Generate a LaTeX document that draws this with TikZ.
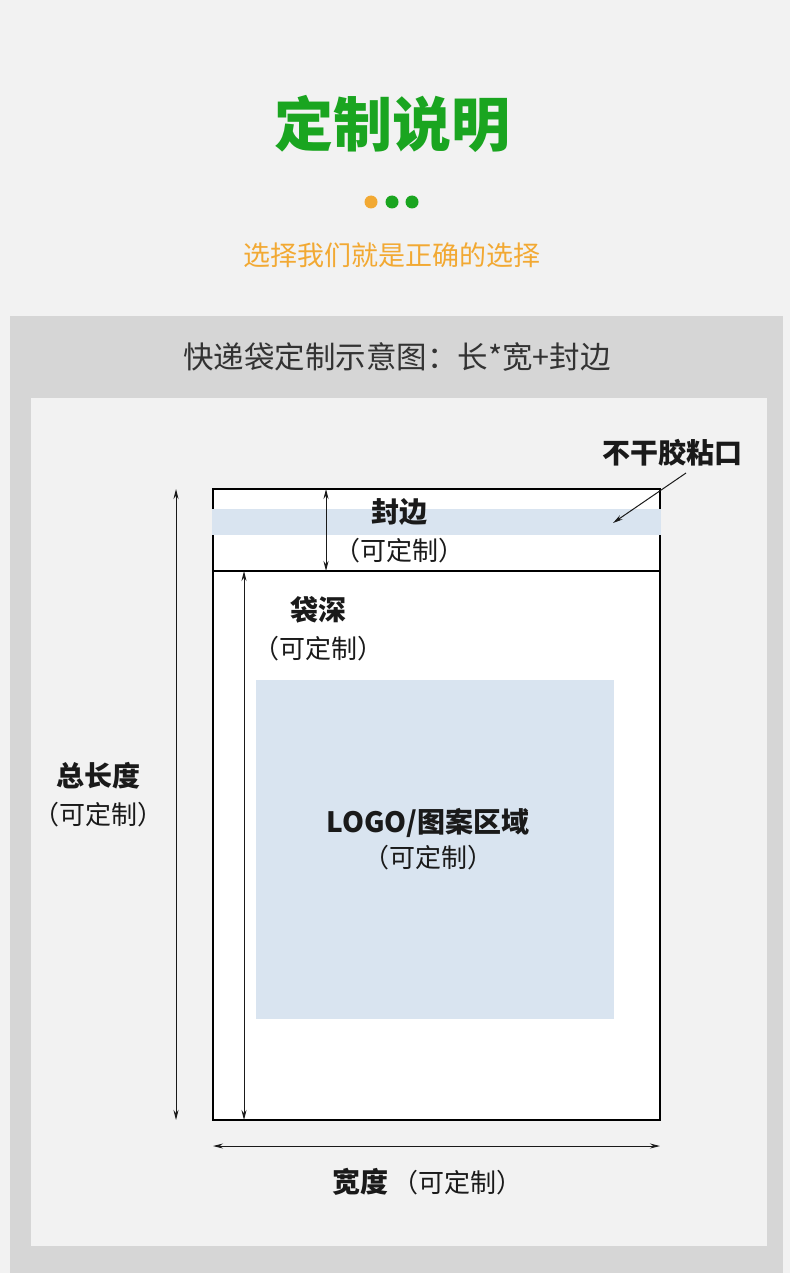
\documentclass[tikz,border=0pt]{standalone}
\usepackage{fontspec}
\setmainfont{Noto Sans CJK SC}
\usetikzlibrary{arrows.meta}
\definecolor{bgc}{HTML}{F2F2F2}
\definecolor{panelc}{HTML}{D6D6D6}
\definecolor{bluec}{HTML}{D9E4F0}
\definecolor{greenc}{HTML}{1AA520}
\definecolor{orangec}{HTML}{F2A933}
\definecolor{textc}{HTML}{1A1A1A}
\definecolor{headc}{HTML}{333333}
\tikzset{
  lbl/.style={font=\fontsize{28}{32}\selectfont\bfseries, text=textc, inner sep=0pt},
  sub/.style={font=\fontsize{26}{30}\selectfont, text=textc, inner sep=0pt},
  dim/.style={draw=textc, line width=1pt, {Stealth[length=10pt,width=5pt]}-{Stealth[length=10pt,width=5pt]}},
  ptr/.style={draw=textc, line width=1pt, -{Stealth[length=10pt,width=5pt]}},
}
\begin{document}
\begin{tikzpicture}[x=1pt,y=-1pt]
\useasboundingbox (0,0) rectangle (790,1273);
\fill[bgc] (0,0) rectangle (790,1273);
% header
\node[font=\fontsize{59}{66}\selectfont\bfseries, text=greenc, inner sep=0pt] (title) at (392,124) {定制说明};
\fill[orangec] (371,202) circle (6.5);
\fill[greenc] (392,202) circle (6.5);
\fill[greenc] (412,202) circle (6.5);
\node[font=\fontsize{27}{30}\selectfont, text=orangec, inner sep=0pt] (subtitle) at (392,255) {选择我们就是正确的选择};
% panels
\fill[panelc] (10,316) rectangle (783,1273);
\node[font=\fontsize{30.5}{34}\selectfont, text=headc, inner sep=0pt] (heading) at (397,357) {快递袋定制示意图：长*宽+封边};
\fill[bgc] (31,398) rectangle (767,1246);
% bag
\draw[line width=2pt, fill=white] (213,489) rectangle (660,1120);
\draw[line width=2pt] (213,571) -- (660,571);
\fill[bluec] (212,509) rectangle (661,535);
\fill[bluec] (256,680) rectangle (614,1019);
% coordinates
\coordinate (sealT) at (326,489);
\coordinate (sealB) at (326,571);
\coordinate (depT) at (244,571);
\coordinate (depB) at (244,1120);
\coordinate (totT) at (176,489);
\coordinate (totB) at (176,1120);
\coordinate (widL) at (213,1146);
\coordinate (widR) at (660,1146);
\coordinate (glueS) at (686,473);
\coordinate (glueE) at (613,523);
\draw[dim] (sealT) -- (sealB);
\draw[dim] (depT) -- (depB);
\draw[dim] (totT) -- (totB);
\draw[dim] (widL) -- (widR);
\draw[ptr] (glueS) -- (glueE);
% labels
\node[lbl] (glue) at (672,453) {不干胶粘口};
\node[lbl] (seal) at (399,512) {封边};
\node[sub] (sealsub) at (399,551) {（可定制）};
\node[lbl] (depth) at (318,610) {袋深};
\node[sub] (depthsub) at (318,649) {（可定制）};
\node[lbl] (logo) at (428,823) {LOGO/图案区域};
\node[sub] (logosub) at (428,858) {（可定制）};
\node[lbl] (total) at (98,776) {总长度};
\node[sub] (totalsub) at (98,815) {（可定制）};
\node[sub] (width) at (427,1182) {\bfseries\fontsize{28}{32}\selectfont 宽度\mdseries\fontsize{26}{30}\selectfont\hspace{4pt}（可定制）};
\end{tikzpicture}
\end{document}
